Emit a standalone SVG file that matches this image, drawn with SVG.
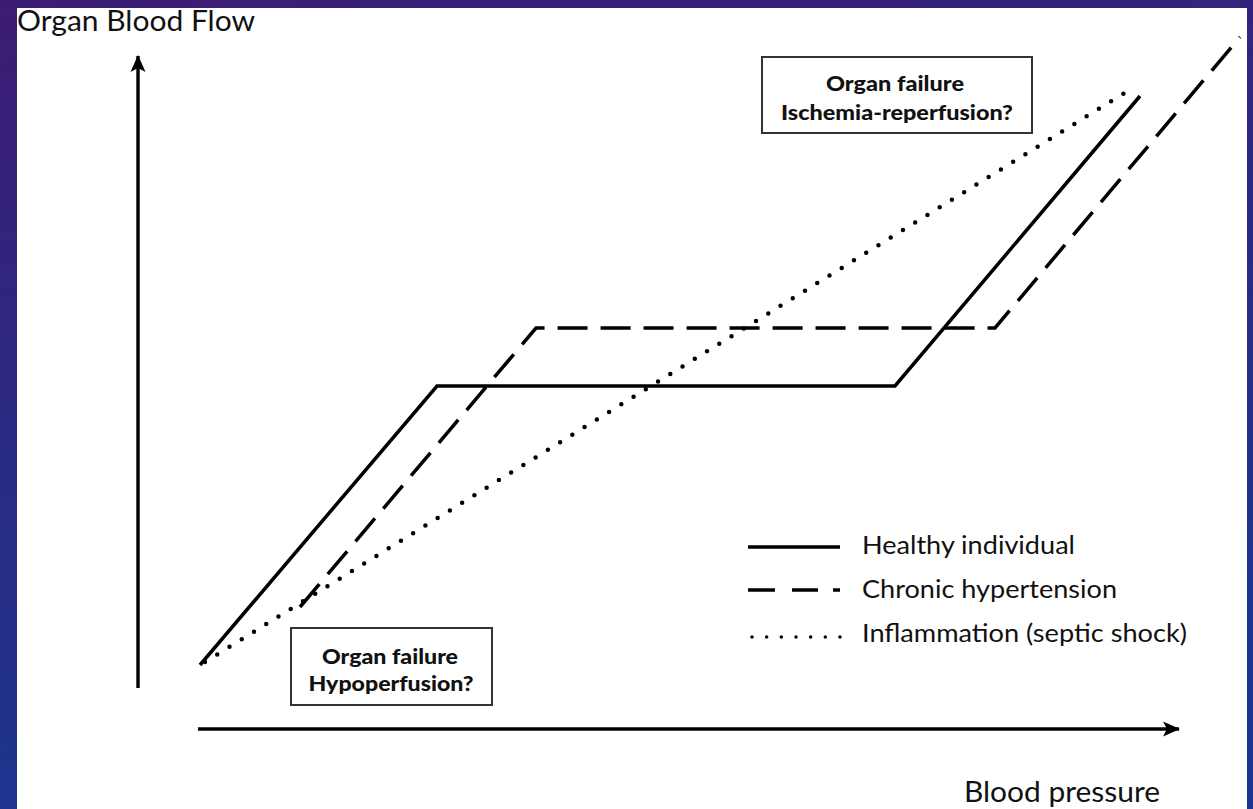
<svg xmlns="http://www.w3.org/2000/svg" width="1253" height="809" viewBox="0 0 1253 809">
  <defs>
    <linearGradient id="bg" x1="0" y1="0" x2="0.3" y2="1">
      <stop offset="0" stop-color="#3d1c74"/>
      <stop offset="0.5" stop-color="#2a2a82"/>
      <stop offset="1" stop-color="#1a3690"/>
    </linearGradient>
    <marker id="arr" viewBox="0 0 18 18" refX="16" refY="9" markerWidth="18" markerHeight="18" markerUnits="userSpaceOnUse" orient="auto">
      <path d="M0,1.5 L17,9 L0,16.5 L4,9 Z" fill="#000"/>
    </marker>
    <style>
      .curve{fill:none;stroke:#000;stroke-width:3.5;stroke-linejoin:miter}
      .dash{stroke-dasharray:30 13}
      .dot{stroke-width:4.5;stroke-linecap:round;stroke-dasharray:0 14.4}
      .axis{fill:none;stroke:#000;stroke-width:3.4}
      .box{fill:#fff;stroke:#333;stroke-width:2}
      .bt{font-family:Lato,"Liberation Sans",sans-serif;font-weight:900;font-size:21px;fill:#111;text-anchor:middle}
      .lt{font-family:Lato,"Liberation Sans",sans-serif;font-size:25px;fill:#111}
      .ax{font-family:Lato,"Liberation Sans",sans-serif;font-size:28px;fill:#111}
    </style>
  </defs>
  <rect x="0" y="0" width="1253" height="809" fill="url(#bg)"/>
  <rect x="17" y="8" width="1230" height="801" fill="#fff"/>

  <g id="connectors">
    <line class="axis" x1="138" y1="688" x2="138" y2="56" marker-end="url(#arr)"/>
    <line class="axis" x1="198" y1="729" x2="1179" y2="729" marker-end="url(#arr)"/>
    <polyline id="healthy-curve" class="curve" points="200,665 437,386 895,386 1140,96"/>
    <polyline id="hypertension-curve" class="curve dash" points="300,607 536,328 995,328 1240,37"/>
    <line id="inflammation-curve" class="curve dot" x1="205" y1="662" x2="1126" y2="92"/>
  </g>

  <g id="y-axis-label">
    <text class="ax" x="17" y="31" textLength="238" lengthAdjust="spacingAndGlyphs">Organ Blood Flow</text>
  </g>
  <g id="x-axis-label">
    <text class="ax" x="964" y="802" textLength="196" lengthAdjust="spacingAndGlyphs">Blood pressure</text>
  </g>

  <g id="box-ischemia">
    <rect class="box" x="762" y="57" width="270" height="76"/>
    <text class="bt" x="895" y="91" textLength="138" lengthAdjust="spacingAndGlyphs">Organ failure</text>
    <text class="bt" x="897" y="120" textLength="232" lengthAdjust="spacingAndGlyphs">Ischemia-reperfusion?</text>
  </g>

  <g id="box-hypoperfusion">
    <rect class="box" x="291" y="628" width="201" height="77"/>
    <text class="bt" x="390" y="664" textLength="136" lengthAdjust="spacingAndGlyphs">Organ failure</text>
    <text class="bt" x="391" y="691" textLength="165" lengthAdjust="spacingAndGlyphs">Hypoperfusion?</text>
  </g>

  <g id="legend-healthy">
    <line class="curve" x1="748" y1="547" x2="840" y2="547"/>
    <text class="lt" x="862" y="554" textLength="213" lengthAdjust="spacingAndGlyphs">Healthy individual</text>
  </g>
  <g id="legend-hypertension">
    <line class="curve" x1="748" y1="590" x2="775" y2="590"/>
    <line class="curve" x1="792" y1="590" x2="818" y2="590"/>
    <line class="curve" x1="833" y1="590" x2="840" y2="590"/>
    <text class="lt" x="862" y="598" textLength="255" lengthAdjust="spacingAndGlyphs">Chronic hypertension</text>
  </g>
  <g id="legend-inflammation">
    <line class="curve dot" x1="752" y1="637" x2="840" y2="637" style="stroke-dasharray:0 14.66;stroke-width:3.5"/>
    <text class="lt" x="862" y="642" textLength="325" lengthAdjust="spacingAndGlyphs">Inflammation (septic shock)</text>
  </g>
</svg>
